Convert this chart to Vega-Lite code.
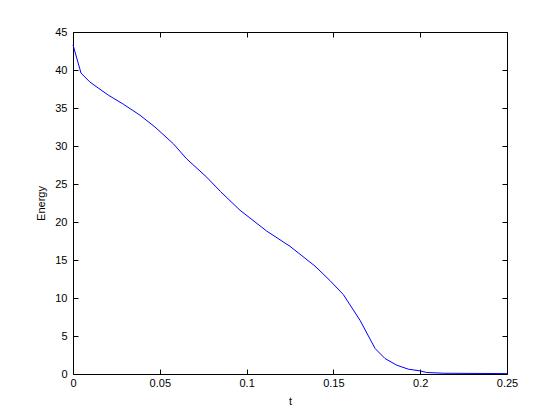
{
  "$schema": "https://vega.github.io/schema/vega-lite/v6.json",
  "width": 434,
  "height": 342,
  "autosize": {"type": "none"},
  "padding": {"left": 73, "top": 32, "right": 53, "bottom": 46},
  "background": "white",
  "config": {
    "view": {"stroke": "black", "strokeWidth": 1},
    "axis": {
      "labelFont": "Liberation Sans",
      "titleFont": "Liberation Sans",
      "labelFontSize": 11,
      "titleFontSize": 11,
      "labelColor": "black",
      "titleColor": "black",
      "titleFontWeight": "normal",
      "domainColor": "black",
      "tickColor": "black",
      "labelFlush": false,
      "labelOverlap": false,
      "grid": false
    }
  },
  "data": {"values": [
    {"t": 0.0, "E": 43.3},
    {"t": 0.0046, "E": 39.6},
    {"t": 0.0098, "E": 38.4},
    {"t": 0.0203, "E": 36.7},
    {"t": 0.0290, "E": 35.5},
    {"t": 0.0386, "E": 34.05},
    {"t": 0.0472, "E": 32.5},
    {"t": 0.0578, "E": 30.3},
    {"t": 0.0655, "E": 28.3},
    {"t": 0.0770, "E": 25.9},
    {"t": 0.0850, "E": 24.0},
    {"t": 0.0962, "E": 21.55},
    {"t": 0.1116, "E": 18.8},
    {"t": 0.1250, "E": 16.8},
    {"t": 0.1394, "E": 14.2},
    {"t": 0.1480, "E": 12.3},
    {"t": 0.1557, "E": 10.46},
    {"t": 0.1653, "E": 7.08},
    {"t": 0.1740, "E": 3.36},
    {"t": 0.1797, "E": 2.04},
    {"t": 0.1865, "E": 1.16},
    {"t": 0.1932, "E": 0.63},
    {"t": 0.1999, "E": 0.41},
    {"t": 0.2037, "E": 0.2},
    {"t": 0.2133, "E": 0.1},
    {"t": 0.2500, "E": 0.05}
  ]},
  "layer": [
    {
      "mark": {"type": "line", "color": "#0000ff", "strokeWidth": 1},
      "encoding": {
        "x": {"field": "t", "type": "quantitative", "scale": {"domain": [0, 0.25], "nice": false, "zero": false},
          "axis": {"title": "t", "values": [0, 0.05, 0.1, 0.15, 0.2, 0.25], "format": "~g", "offset": -5, "tickSize": 5, "labelPadding": 3, "titlePadding": 7, "domain": false}},
        "y": {"field": "E", "type": "quantitative", "scale": {"domain": [0, 45], "nice": false},
          "axis": {"title": "Energy", "values": [0, 5, 10, 15, 20, 25, 30, 35, 40, 45], "offset": -5, "tickSize": 5, "labelPadding": 6, "titlePadding": 8, "domain": false}}
      }
    },
    {
      "mark": {"type": "line", "opacity": 0},
      "encoding": {
        "x": {"field": "t", "type": "quantitative", "scale": {"domain": [0, 0.25], "nice": false, "zero": false},
          "axis": {"orient": "top", "title": null, "labels": false, "values": [0, 0.05, 0.1, 0.15, 0.2, 0.25], "offset": -5, "tickSize": 5, "domain": false}},
        "y": {"field": "E", "type": "quantitative", "scale": {"domain": [0, 45], "nice": false},
          "axis": {"orient": "right", "title": null, "labels": false, "values": [0, 5, 10, 15, 20, 25, 30, 35, 40, 45], "offset": -5, "tickSize": 5, "domain": false}}
      }
    }
  ],
  "resolve": {"axis": {"x": "independent", "y": "independent"}}
}
